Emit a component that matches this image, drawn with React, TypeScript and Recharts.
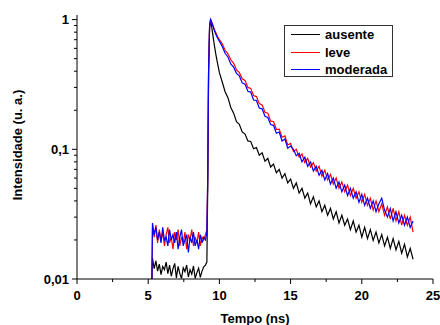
import { LineChart, Line, XAxis, YAxis, Legend } from "recharts";

const FONT = "Arial, 'Liberation Sans', Helvetica, sans-serif";

// tempo (ns)
const tempo = [
  5.26, 5.3, 5.42, 5.54, 5.66, 5.78, 5.9, 6.02, 6.14, 6.26, 6.38, 6.5, 6.62, 6.74, 6.86, 6.98, 7.1,
  7.22, 7.34, 7.46, 7.58, 7.7, 7.82, 7.94, 8.06, 8.18, 8.3, 8.42, 8.54, 8.66, 8.78, 8.9, 9.02, 9.12,
  9.18, 9.24, 9.31, 9.38, 9.46, 9.55, 9.65, 9.75, 9.87, 10.0,
  10.2, 10.4, 10.6, 10.8, 11, 11.2, 11.4, 11.6, 11.8, 12, 12.2, 12.4, 12.6, 12.8, 13, 13.2, 13.4,
  13.6, 13.8, 14, 14.2, 14.4, 14.6, 14.8, 15, 15.2, 15.4, 15.6, 15.8, 16, 16.2, 16.4, 16.6, 16.8,
  17, 17.2, 17.4, 17.6, 17.8, 18, 18.2, 18.4, 18.6, 18.8, 19, 19.2, 19.4, 19.6, 19.8, 20, 20.2,
  20.4, 20.6, 20.8, 21, 21.2, 21.4, 21.6, 21.8, 22, 22.2, 22.4, 22.6, 22.8, 23, 23.2, 23.4, 23.6,
];

const ausente = [
  0.01, 0.0145, 0.012, 0.0138, 0.0115, 0.013, 0.0108, 0.0125, 0.0118, 0.0135, 0.011, 0.0128, 0.0105,
  0.012, 0.0132, 0.0102, 0.0125, 0.011, 0.0101, 0.0122, 0.0114, 0.0128, 0.0104, 0.0118, 0.0109,
  0.0126, 0.0101, 0.0112, 0.0121, 0.0103, 0.0115, 0.0124, 0.0128, 0.0135,
  0.05, 0.38, 0.86, 1.0, 0.88, 0.75, 0.63, 0.54, 0.46, 0.39,
  0.33, 0.278, 0.25, 0.21, 0.19, 0.163, 0.156, 0.136, 0.131, 0.116, 0.115, 0.101, 0.103, 0.09, 0.094,
  0.081, 0.085, 0.073, 0.077, 0.066, 0.07, 0.06, 0.065, 0.055, 0.059, 0.05, 0.055, 0.046, 0.05, 0.042,
  0.046, 0.038, 0.043, 0.036, 0.04, 0.033, 0.037, 0.031, 0.035, 0.029, 0.033, 0.027, 0.031, 0.026,
  0.029, 0.024, 0.028, 0.023, 0.026, 0.021, 0.025, 0.0205, 0.024, 0.0198, 0.023, 0.019, 0.022, 0.018,
  0.021, 0.0172, 0.0205, 0.0168, 0.0195, 0.0158, 0.0185, 0.0148, 0.0172, 0.0142,
];

const leve = [
  0.01, 0.025, 0.021, 0.026, 0.019, 0.024, 0.02, 0.023, 0.018, 0.022, 0.025, 0.019, 0.021, 0.017,
  0.023, 0.02, 0.024, 0.018, 0.021, 0.019, 0.023, 0.017, 0.022, 0.02, 0.024, 0.018, 0.021, 0.019,
  0.023, 0.018, 0.021, 0.02, 0.022, 0.024,
  0.06, 0.4, 0.88, 1.0, 0.96, 0.9, 0.84, 0.79, 0.74, 0.7,
  0.65, 0.58, 0.545, 0.49, 0.46, 0.41, 0.39, 0.35, 0.34, 0.3, 0.295, 0.26, 0.255, 0.225, 0.22, 0.193,
  0.19, 0.165, 0.164, 0.142, 0.143, 0.124, 0.127, 0.108, 0.111, 0.096, 0.1, 0.087, 0.092, 0.079,
  0.085, 0.073, 0.079, 0.068, 0.074, 0.062, 0.069, 0.058, 0.064, 0.054, 0.06, 0.05, 0.056, 0.047,
  0.053, 0.044, 0.05, 0.042, 0.047, 0.039, 0.045, 0.037, 0.042, 0.034, 0.04, 0.033, 0.038, 0.031,
  0.036, 0.029, 0.035, 0.028, 0.033, 0.026, 0.031, 0.026, 0.03, 0.023,
];

const moderada = [
  0.01, 0.027, 0.022, 0.025, 0.02, 0.023, 0.019, 0.025, 0.02, 0.021, 0.018, 0.024, 0.02, 0.022,
  0.019, 0.023, 0.017, 0.021, 0.024, 0.018, 0.02, 0.022, 0.016, 0.021, 0.019, 0.023, 0.018, 0.02,
  0.017, 0.022, 0.019, 0.021, 0.02, 0.023,
  0.06, 0.4, 0.88, 1.0, 0.95, 0.89, 0.82, 0.77, 0.72, 0.68,
  0.62, 0.55, 0.515, 0.455, 0.43, 0.385, 0.368, 0.325, 0.318, 0.28, 0.276, 0.24, 0.238, 0.208, 0.205,
  0.18, 0.176, 0.155, 0.153, 0.133, 0.136, 0.116, 0.12, 0.102, 0.106, 0.1, 0.089, 0.093, 0.08, 0.087,
  0.074, 0.08, 0.068, 0.074, 0.063, 0.069, 0.058, 0.065, 0.054, 0.06, 0.05, 0.056, 0.047, 0.053,
  0.044, 0.05, 0.042, 0.047, 0.039, 0.045, 0.037, 0.042, 0.035, 0.04, 0.033, 0.038, 0.042, 0.034,
  0.03, 0.035, 0.028, 0.033, 0.027, 0.031, 0.026, 0.03, 0.025, 0.028,
];

const xTicks = [0, 2.5, 5, 7.5, 10, 12.5, 15, 17.5, 20, 22.5, 25];
const xLabels = [0, 5, 10, 15, 20, 25];
const yTicks = [
  0.01, 0.02, 0.03, 0.04, 0.05, 0.06, 0.07, 0.08, 0.09,
  0.1, 0.2, 0.3, 0.4, 0.5, 0.6, 0.7, 0.8, 0.9, 1,
];
const yMajor = [0.01, 0.1, 1];
const yMajorText = ["0,01", "0,1", "1"];

const data = tempo.map((t, i) => ({
  t,
  ausente: ausente[i],
  leve: leve[i],
  moderada: moderada[i],
}));

const labelStyle = { fontSize: 13, fontWeight: "bold" as const, fontFamily: FONT, fill: "#000" };

function BottomTick({ x, y, payload }: any) {
  const major = xLabels.includes(payload.value);
  return (
    <g>
      <line x1={x} x2={x} y1={y} y2={y + (major ? 5 : 3)} stroke="#000" />
      {major && (
        <text x={x} y={y + 21} textAnchor="middle" {...labelStyle}>
          {payload.value}
        </text>
      )}
    </g>
  );
}

function TopTick({ x, y, payload }: any) {
  const major = xLabels.includes(payload.value);
  return <line x1={x} x2={x} y1={y} y2={y + (major ? 5 : 3)} stroke="#000" />;
}

function LeftTick({ x, y, payload }: any) {
  const idx = yMajor.indexOf(payload.value);
  const major = idx >= 0;
  return (
    <g>
      <line x1={x - (major ? 5 : 3)} x2={x} y1={y} y2={y} stroke="#000" />
      {major && (
        <text x={x - 8} y={y + 4.5} textAnchor="end" {...labelStyle}>
          {yMajorText[idx]}
        </text>
      )}
    </g>
  );
}

function RightTick({ x, y, payload }: any) {
  const major = yMajor.includes(payload.value);
  return <line x1={x - (major ? 5 : 3)} x2={x} y1={y} y2={y} stroke="#000" />;
}

function LegendBox({ payload }: any) {
  return (
    <div
      style={{
        boxSizing: "border-box",
        width: 109,
        height: 52,
        border: "1px solid #333",
        background: "#fff",
        padding: "0 0 0 6px",
      }}
    >
      {(payload ?? []).map((p: any) => (
        <div key={p.value} style={{ display: "flex", alignItems: "center", height: 17.5 }}>
          <span
            style={{
              display: "inline-block",
              width: 29,
              height: 0,
              borderTop: `1.5px solid ${p.color}`,
              marginRight: 5,
            }}
          />
          <span style={{ font: `bold 13px ${FONT}`, color: "#000", lineHeight: "17px" }}>{p.value}</span>
        </div>
      ))}
    </div>
  );
}

export default function App() {
  return (
    <div style={{ position: "absolute", left: 0, top: 0, background: "#fff" }}>
      <LineChart width={440} height={325} data={data} margin={{ top: 15, right: 7, bottom: 0, left: 0 }}>
        <XAxis
          dataKey="t"
          type="number"
          domain={[0, 25]}
          ticks={xTicks}
          interval={0}
          tickSize={0}
          tickMargin={0}
          tick={BottomTick}
          axisLine={{ stroke: "#000" }}
          height={46}
          allowDataOverflow
          label={({ viewBox }: any) => (
            <text x={viewBox.x + viewBox.width / 2} y={viewBox.y + 44} textAnchor="middle" {...labelStyle}>
              Tempo (ns)
            </text>
          )}
        />
        <XAxis
          xAxisId="top"
          orientation="top"
          type="number"
          domain={[0, 25]}
          ticks={xTicks}
          interval={0}
          tickSize={0}
          tickMargin={0}
          tick={TopTick}
          axisLine={{ stroke: "#000" }}
          height={0}
          allowDataOverflow
        />
        <YAxis
          scale="log"
          type="number"
          domain={[0.01, 1.085]}
          ticks={yTicks}
          interval={0}
          tickSize={0}
          tickMargin={0}
          tick={LeftTick}
          axisLine={{ stroke: "#000" }}
          width={77}
          allowDataOverflow
          label={({ viewBox }: any) => {
            const cx = 17;
            const cy = viewBox.y + viewBox.height / 2 - 2;
            return (
              <text
                x={cx}
                y={cy}
                dy={4.5}
                textAnchor="middle"
                transform={`rotate(-90, ${cx}, ${cy})`}
                {...labelStyle}
              >
                Intensidade (u. a.)
              </text>
            );
          }}
        />
        <YAxis
          yAxisId="right"
          orientation="right"
          scale="log"
          type="number"
          domain={[0.01, 1.085]}
          ticks={yTicks}
          interval={0}
          tickSize={0}
          tickMargin={0}
          tick={RightTick}
          axisLine={{ stroke: "#000" }}
          width={0}
          allowDataOverflow
        />
        <Legend
          layout="vertical"
          align="center"
          verticalAlign="middle"
          content={LegendBox}
          wrapperStyle={{ left: 284, top: 25, width: 109, height: 52 }}
        />
        <Line
          dataKey="ausente"
          name="ausente"
          stroke="#000000"
          strokeWidth={1.2}
          dot={false}
          isAnimationActive={false}
        />
        <Line
          dataKey="leve"
          name="leve"
          stroke="#ff0000"
          strokeWidth={1.2}
          dot={false}
          isAnimationActive={false}
        />
        <Line
          dataKey="moderada"
          name="moderada"
          stroke="#0000ff"
          strokeWidth={1.2}
          dot={false}
          isAnimationActive={false}
        />
      </LineChart>
    </div>
  );
}
